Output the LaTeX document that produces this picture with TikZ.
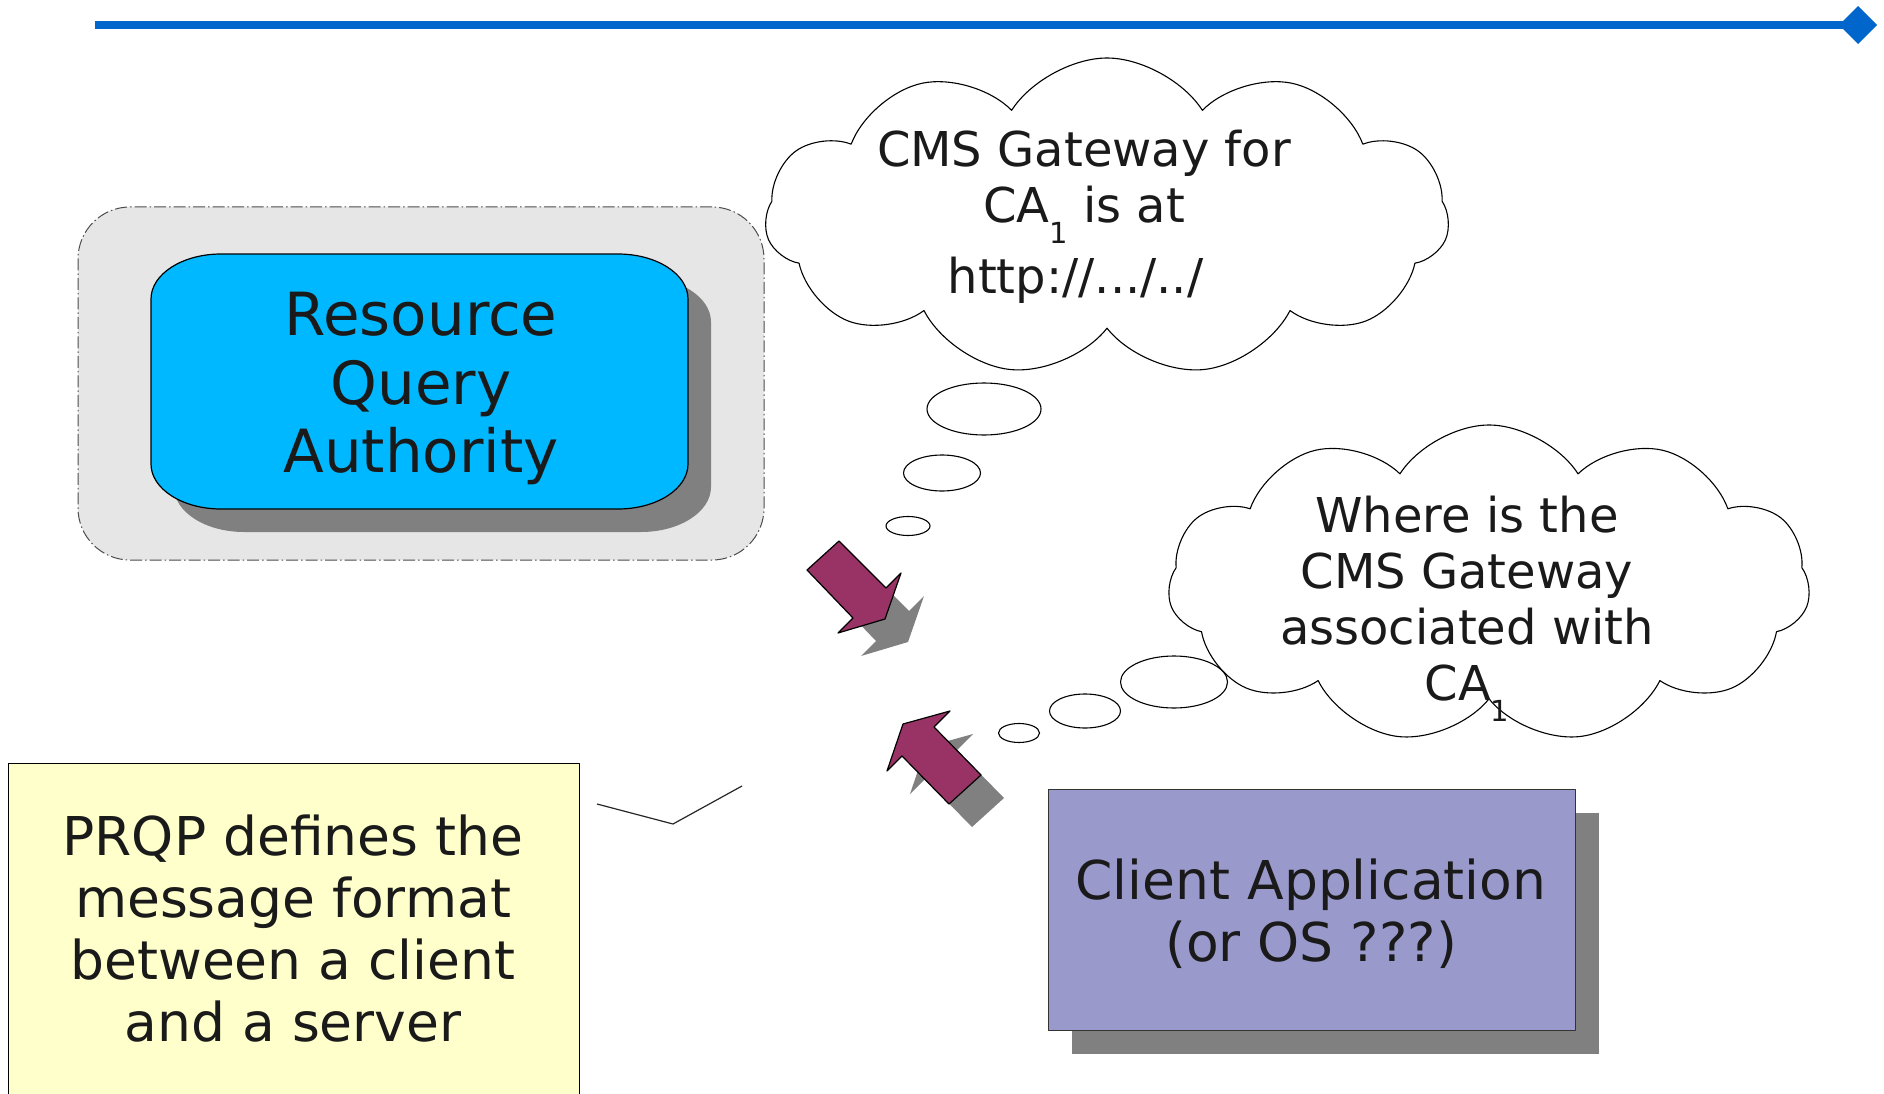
\documentclass[tikz,border=0pt]{standalone}
\usepackage{fontspec}
\setmainfont{DejaVu Sans}
\usetikzlibrary{shapes.geometric,shapes.symbols,arrows.meta,shadows}

\definecolor{ruleblue}{RGB}{0,102,204}
\definecolor{rqablue}{RGB}{0,184,255}
\definecolor{areagrey}{RGB}{230,230,230}
\definecolor{shadowgrey}{RGB}{128,128,128}
\definecolor{arrowpurple}{RGB}{153,51,102}
\definecolor{clientlilac}{RGB}{153,153,204}
\definecolor{noteyellow}{RGB}{255,255,204}
\definecolor{ink}{RGB}{26,26,26}

% outline of the query authority box (elliptic corners)
\newcommand\rqapath{(221,254) -- (618,254)
  arc[start angle=-90, end angle=0, x radius=70, y radius=45] -- (688,464)
  arc[start angle=0, end angle=90, x radius=70, y radius=45] -- (221,509)
  arc[start angle=90, end angle=180, x radius=70, y radius=45] -- (151,299)
  arc[start angle=180, end angle=270, x radius=70, y radius=45] -- cycle}
% block arrows
\newcommand\answerpath{(807,570) -- (839,541) -- (886,588) -- (901,573)
  -- (885,619) -- (838,633) -- (853,618) -- cycle}
\newcommand\askpath{(949,804) -- (981,775) -- (934,727) -- (950,711)
  -- (903,724) -- (887,771) -- (902,756) -- cycle}
% low small index, as in CA_1
\newcommand\lowidx[1]{\raisebox{-21pt}{\fontsize{29}{29}\selectfont #1}}

\tikzset{
  shadowed/.style={drop shadow={shadow xshift=23pt, shadow yshift=-23pt,
      fill=shadowgrey, opacity=1}},
  bubble/.style={cloud, cloud puffs=11, cloud puff arc=115, draw,
    line width=1.1pt, fill=white, inner sep=0pt},
  puff/.style={ellipse, draw, line width=1.1pt, fill=white, inner sep=0pt},
  blockarrow/.style={fill=arrowpurple, draw=black, line width=1.2pt, shadowed},
  words/.style={align=center, text=ink, inner sep=0pt, anchor=north},
  big/.style={font=\fontsize{59.5}{68.5}\selectfont},
  mid/.style={font=\fontsize{53.5}{62}\selectfont},
  small/.style={font=\fontsize{48}{56}\selectfont}
}

\begin{document}
\begin{tikzpicture}[x=1pt, y=-1pt, line join=round]
\useasboundingbox (0,0) rectangle (1884,1094);

% rule along the top
\coordinate (rule start) at (95,25);
\coordinate (rule end) at (1877,25);
\draw [ruleblue, line width=8pt, -{Diamond[length=38pt, width=38pt]}] (rule start) -- (rule end);

% server side
\node [draw=black!70, fill=areagrey, rounded corners=52pt, line width=1pt,
  dash pattern=on 12pt off 3pt on 1.5pt off 3pt,
  minimum width=686pt, minimum height=353pt] (server area) at (421,383.5) {};
\filldraw [fill=rqablue, draw=black, line width=1.2pt, shadowed] \rqapath;
\node [words, big] (rqa) at (421,292) {Resource\\Query\\Authority};

% answer
\node [bubble, minimum width=684pt, minimum height=318pt] (gateway cloud) at (1107,217) {};
\node [words, small] (gateway text) at (1084,130) {CMS Gateway for\\CA\lowidx{1} is at\\[12pt]http://.../../\hspace*{17pt}};
\node [puff, minimum width=114pt, minimum height=52pt] (gateway puff a) at (984,409) {};
\node [puff, minimum width=77pt, minimum height=36pt] (gateway puff b) at (942,473) {};
\node [puff, minimum width=44pt, minimum height=19pt] (gateway puff c) at (908,526) {};

% question
\node [bubble, minimum width=642pt, minimum height=318pt] (where cloud) at (1489,584) {};
\node [words, small] (where text) at (1467,496) {Where is the\\CMS Gateway\\associated with\\CA\lowidx{1}};
\node [puff, minimum width=107pt, minimum height=52pt] (where puff a) at (1174,682) {};
\node [puff, minimum width=71pt, minimum height=34pt] (where puff b) at (1085,711) {};
\node [puff, minimum width=41pt, minimum height=19pt] (where puff c) at (1019,733) {};

% messages
\filldraw [blockarrow] \answerpath;
\filldraw [blockarrow] \askpath;

% client
\node [draw=black!80, fill=clientlilac, line width=1.2pt, shadowed, anchor=north west,
  minimum width=527pt, minimum height=241pt] (client) at (1048,789) {};
\node [words, mid] (client text) at (1311,859) {Client Application\\(or OS ???)};

% note
\node [draw=black, fill=noteyellow, line width=1.2pt, anchor=north west,
  minimum width=571pt, minimum height=340pt] (note) at (8,763) {};
\node [words, mid] (note text) at (293,815) {PRQP defines the\\message format\\between a client\\and a server};
\coordinate (hook a) at (597,804);
\coordinate (hook b) at (673,824);
\coordinate (hook c) at (742,786);
\draw [black!85, line width=1.2pt] (hook a) -- (hook b) -- (hook c);
\end{tikzpicture}
\end{document}
